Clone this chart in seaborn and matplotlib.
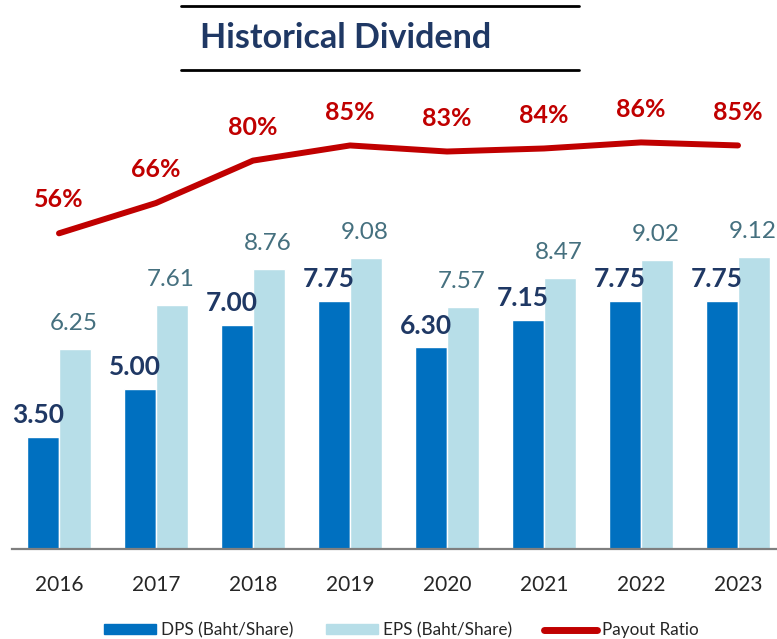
import numpy as np
import pandas as pd
import matplotlib
matplotlib.use("Agg")
import matplotlib.pyplot as plt
import seaborn as sns
from matplotlib.patches import Patch
from matplotlib.lines import Line2D

# Dados
years = ["2016", "2017", "2018", "2019", "2020", "2021", "2022", "2023"]
dps = [3.50, 5.00, 7.00, 7.75, 6.30, 7.15, 7.75, 7.75]
eps = [6.25, 7.61, 8.76, 9.08, 7.57, 8.47, 9.02, 9.12]
payout = [56, 66, 80, 85, 83, 84, 86, 85]

c_dps = "#0070C0"
c_eps = "#B7DEE8"
c_line = "#C00000"
navy = "#1F3864"

sns.set_style("white")
plt.rcParams["font.family"] = ["Lato", "DejaVu Sans"]

df = pd.DataFrame({
    "year": years * 2,
    "value": dps + eps,
    "serie": ["DPS (Baht/Share)"] * len(years) + ["EPS (Baht/Share)"] * len(years),
})

fig = plt.figure(figsize=(7.77, 6.39), dpi=100)
W, H = 777, 639
ax = fig.add_axes([12 / W, 1 - 549 / H, (777 - 12) / W, (549 - 80) / H])

sns.barplot(data=df, x="year", y="value", hue="serie", palette=[c_dps, c_eps],
            width=0.66, gap=0, ax=ax, legend=False, errorbar=None, saturation=1)

x0 = (12 - 59) / 97
x1 = (777 - 59) / 97
ax.set_xlim(x0, x1)
ax.set_ylim(0, 469 / 32)
ax.set_yticks([])
ax.set_xlabel("")
ax.set_ylabel("")
for s in ["top", "right", "left"]:
    ax.spines[s].set_visible(False)
ax.spines["bottom"].set_color("#7F7F7F")
ax.spines["bottom"].set_linewidth(1.6)
ax.tick_params(axis="x", length=0, pad=19, labelsize=15, labelcolor="#262626")

# rótulos das barras
bw = 0.33
for i in range(len(years)):
    ax.text(i - bw / 2 - 0.05, dps[i] + 0.68, f"{dps[i]:.2f}", ha="center", va="center",
            fontsize=19, fontweight="bold", color=navy)
    ax.text(i + bw / 2 - 0.01, eps[i] + 0.8, f"{eps[i]:.2f}", ha="center", va="center",
            fontsize=17.5, color="#45707F")

# linha do payout
ax2 = ax.twinx()
ppx = 3.03
ax2.set_ylim(-146 / ppx, (469 - 146) / ppx)
sns.lineplot(x=np.arange(len(years)), y=payout, ax=ax2, color=c_line, linewidth=4.3,
             solid_capstyle="round")
ax2.set_xlim(x0, x1)
ax2.set_yticks([])
ax2.set_ylabel("")
for s in ["top", "right", "left", "bottom"]:
    ax2.spines[s].set_visible(False)
for i, p in enumerate(payout):
    ax2.text(i, p + 11, f"{p}%", ha="center", va="center", fontsize=18,
             fontweight="bold", color=c_line)

# título
fig.text(346 / W, 1 - 38 / H, "Historical Dividend", ha="center", va="center",
         fontsize=24.5, fontweight="bold", color=navy)
fig.add_artist(Line2D([181 / W, 579 / W], [1 - 6 / H, 1 - 6 / H], color="black", lw=2))
fig.add_artist(Line2D([181 / W, 579 / W], [1 - 70 / H, 1 - 70 / H], color="black", lw=2))

# legenda
handles = [Patch(color=c_dps, label="DPS (Baht/Share)"),
           Patch(color=c_eps, label="EPS (Baht/Share)"),
           Line2D([], [], color=c_line, lw=5, solid_capstyle="round", label="Payout Ratio")]
fig.legend(handles=handles, loc="center", bbox_to_anchor=(401 / W, 1 - 630 / H), ncol=3,
           frameon=False, fontsize=12.3, handlelength=3.05, handleheight=0.45,
           columnspacing=1.9, handletextpad=0.3)

fig.savefig("out.png", dpi=100)
